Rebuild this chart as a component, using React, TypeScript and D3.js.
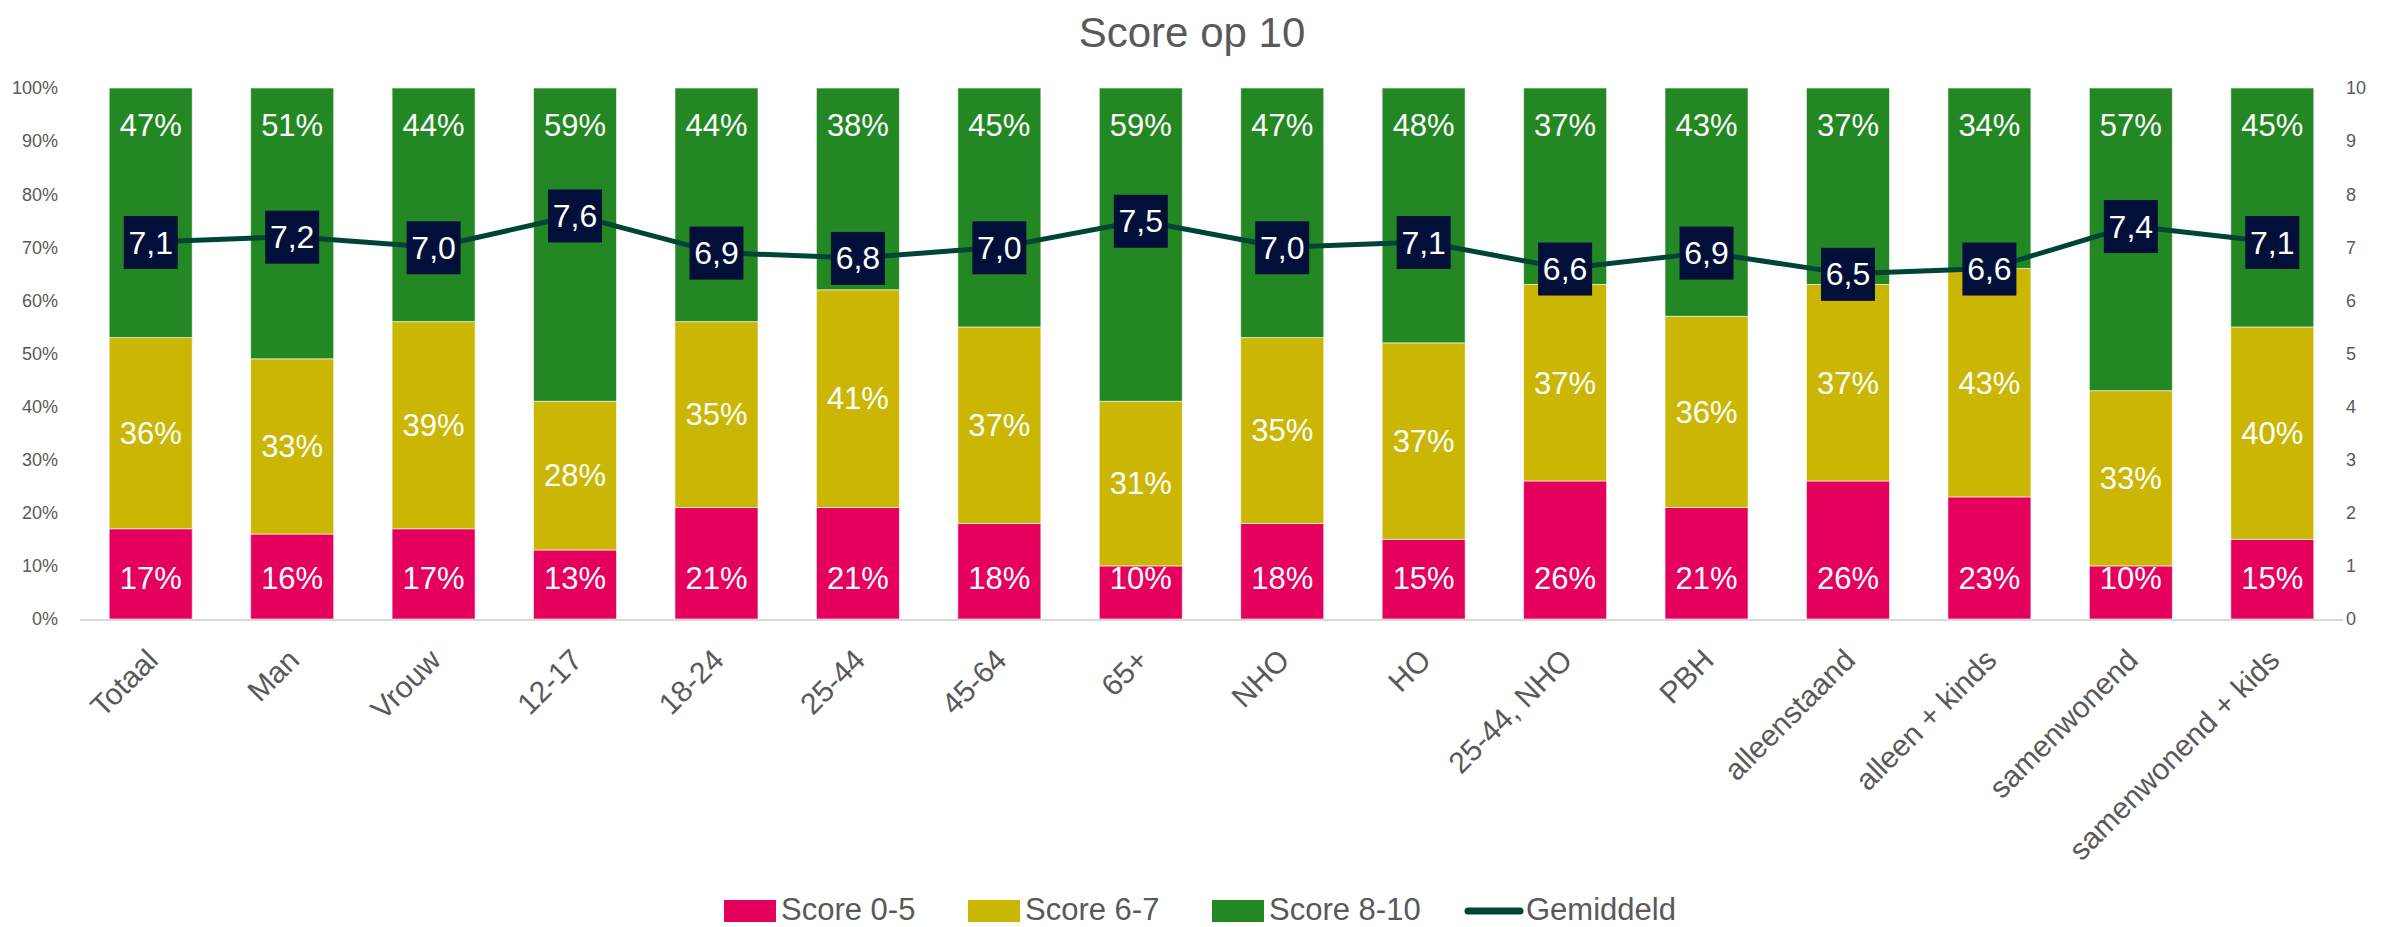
import React from "react";
import * as d3 from "d3";

const categories = ["Totaal","Man","Vrouw","12-17","18-24","25-44","45-64","65+","NHO","HO","25-44, NHO","PBH","alleenstaand","alleen + kinds","samenwonend","samenwonend + kids"];
const score05 = [17,16,17,13,21,21,18,10,18,15,26,21,26,23,10,15];
const score67 = [36,33,39,28,35,41,37,31,35,37,37,36,37,43,33,40];
const score810 = [47,51,44,59,44,38,45,59,47,48,37,43,37,34,57,45];
const gemiddeld = [7.1,7.2,7.0,7.6,6.9,6.8,7.0,7.5,7.0,7.1,6.6,6.9,6.5,6.6,7.4,7.1];
const leftTicks = [0,10,20,30,40,50,60,70,80,90,100];
const rightTicks = [0,1,2,3,4,5,6,7,8,9,10];
const seriesNames = ["Score 0-5","Score 6-7","Score 8-10"];
const colors = ["#E6005E","#CBB703","#238823"];
const lineColor = "#004438";
const boxColor = "#021039";
const gray = "#595959";
const font = "'Liberation Sans', Arial, sans-serif";

export default function App() {
  const W = 2384, H = 927;
  const x0 = 80, x1 = 2343, yTop = 88, yBot = 619;
  const x = d3.scaleBand().domain(categories).range([x0, x1]).paddingInner(0.413).paddingOuter(0.2065);
  const yL = d3.scaleLinear().domain([0, 100]).range([yBot, yTop]);
  const yR = d3.scaleLinear().domain([0, 10]).range([yBot, yTop]);
  const rows = categories.map((c, i) => ({ c, a: score05[i], b: score67[i], g: score810[i] }));
  const stack = d3.stack<any>().keys(["a", "b", "g"])(rows);
  const line = d3.line<number>().x((_, i) => x(categories[i])! + x.bandwidth() / 2).y(d => yR(d));
  const bw = x.bandwidth();
  const fmt = (v: number) => v.toFixed(1).replace(".", ",");

  const legendItems = [
    { name: seriesNames[0], color: colors[0], x: 724, type: "rect" },
    { name: seriesNames[1], color: colors[1], x: 968, type: "rect" },
    { name: seriesNames[2], color: colors[2], x: 1212, type: "rect" },
    { name: "Gemiddeld", color: lineColor, x: 1465, type: "line" },
  ];

  return (
    <svg width={W} height={H} style={{ position: "absolute", left: 0, top: 0, background: "#fff" }} fontFamily={font}>
      <text x={W / 2} y={47} textAnchor="middle" fontSize={42} fill={gray}>Score op 10</text>
      {leftTicks.map(t => (
        <text key={"l" + t} x={58} y={yL(t)} dy="0.35em" textAnchor="end" fontSize={18} fill={gray}>{t}%</text>
      ))}
      {rightTicks.map(t => (
        <text key={"r" + t} x={2346} y={yR(t)} dy="0.35em" textAnchor="start" fontSize={18} fill={gray}>{t}</text>
      ))}
      {stack.map((s, si) => (
        <g key={si}>
          {s.map((d, i) => (
            <rect key={i} x={x(categories[i])} y={yL(d[1])} width={bw} height={yL(d[0]) - yL(d[1])} fill={colors[si]} stroke="#ffffff" strokeOpacity={0.6} strokeWidth={1} />
          ))}
        </g>
      ))}
      <line x1={x0} x2={x1} y1={yBot + 1} y2={yBot + 1} stroke="#D9D9D9" strokeWidth={2} />
      {stack.map((s, si) => (
        <g key={"lab" + si}>
          {s.map((d, i) => {
            const cx = x(categories[i])! + bw / 2;
            let cy;
            if (si === 0) cy = yBot - 41;
            else if (si === 1) cy = (yL(d[0]) + yL(d[1])) / 2;
            else cy = yL(d[1]) + 37;
            const v = [score05, score67, score810][si][i];
            return <text key={i} x={cx} y={cy} dy="0.35em" textAnchor="middle" fontSize={31} fill="#fff">{v}%</text>;
          })}
        </g>
      ))}
      <path d={line(gemiddeld) || ""} fill="none" stroke={lineColor} strokeWidth={5} />
      {gemiddeld.map((v, i) => {
        const cx = x(categories[i])! + bw / 2;
        const cy = yR(v);
        return (
          <g key={"g" + i}>
            <rect x={cx - 27} y={cy - 26} width={54} height={53} fill={boxColor} />
            <text x={cx} y={cy} dy="0.36em" textAnchor="middle" fontSize={32} fill="#fff">{fmt(v)}</text>
          </g>
        );
      })}
      {categories.map((c, i) => {
        const cx = x(c)! + bw / 2 + 9;
        const cy = 662;
        return (
          <text key={"x" + i} transform={`translate(${cx},${cy}) rotate(-45)`} textAnchor="end" fontSize={30} fill={gray}>{c}</text>
        );
      })}
      {legendItems.map((it, i) => (
        <g key={"lg" + i}>
          {it.type === "rect" ? (
            <rect x={it.x} y={900} width={52} height={22} fill={it.color} />
          ) : (
            <line x1={it.x + 3} x2={it.x + 55} y1={911} y2={911} stroke={it.color} strokeWidth={7} strokeLinecap="round" />
          )}
          <text x={it.x + (it.type === "rect" ? 57 : 61)} y={920} fontSize={31} fill={gray}>{it.name}</text>
        </g>
      ))}
    </svg>
  );
}
